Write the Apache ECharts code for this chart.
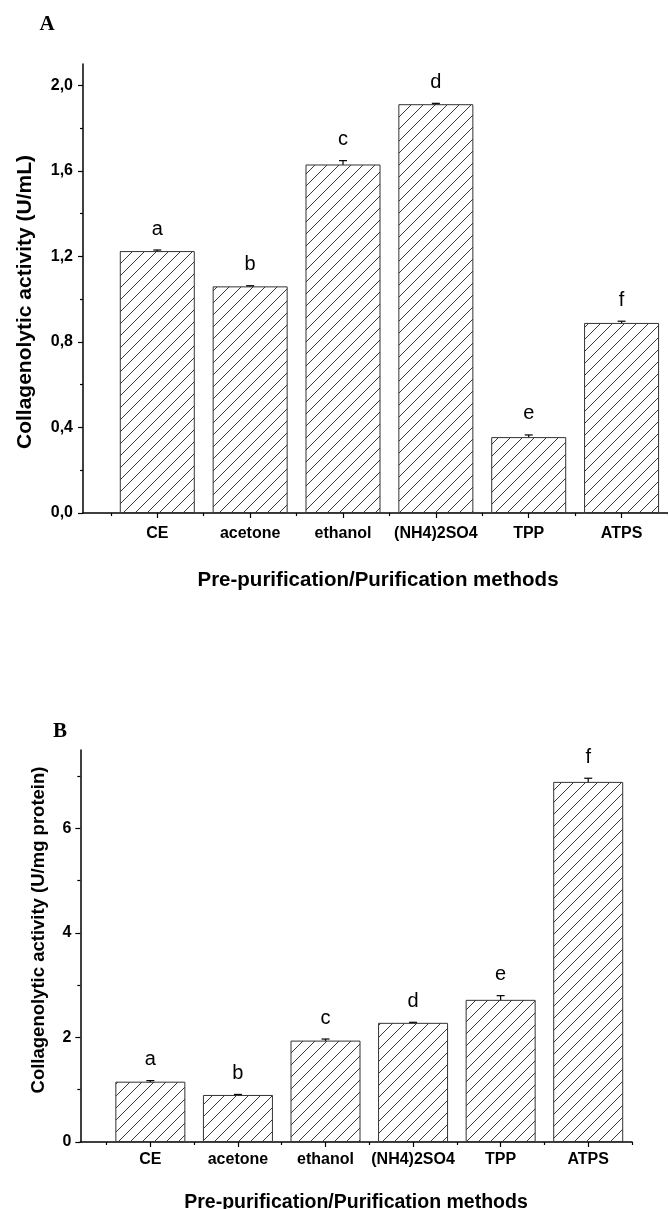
<!DOCTYPE html>
<html><head><meta charset="utf-8">
<script src="https://cdn.jsdelivr.net/npm/echarts@6/dist/echarts.min.js"></script>
<style>html,body{margin:0;padding:0;background:#fff}#c{width:668px;height:1209px}</style>
</head><body><div id="c"></div>
<script>
// ---- data ----
const categories = ['CE', 'acetone', 'ethanol', '(NH4)2SO4', 'TPP', 'ATPS'];
const catPositions = [1, 2, 3, 4, 5, 6];
const catBoundaries = [0.5, 1.5, 2.5, 3.5, 4.5, 5.5, 6.5];
const valuesA = [1.225, 1.06, 1.63, 1.912, 0.355, 0.889];
const errorsA = [0.005, 0.003, 0.018, 0.004, 0.01, 0.008];
const lettersA = ['a', 'b', 'c', 'd', 'e', 'f'];
const valuesB = [1.154, 0.90, 1.94, 2.28, 2.72, 6.89];
const errorsB = [0.02, 0.01, 0.03, 0.01, 0.08, 0.07];
const lettersB = ['a', 'b', 'c', 'd', 'e', 'f'];
const yTicksA = [0, 0.4, 0.8, 1.2, 1.6, 2.0];
const yMinorA = [0.2, 0.6, 1.0, 1.4, 1.8];
const yTicksB = [0, 2, 4, 6];
const yMinorB = [1, 3, 5, 7];
const titleX = 'Pre-purification/Purification methods';
const titleYA = 'Collagenolytic activity (U/mL)';
const titleYB = 'Collagenolytic activity (U/mg protein)';

// ---- hatch pattern ----
function hatch() {
  const s = 12, c = document.createElement('canvas');
  c.width = s; c.height = s;
  const ctx = c.getContext('2d');
  ctx.fillStyle = '#fff'; ctx.fillRect(0, 0, s, s);
  ctx.strokeStyle = '#222'; ctx.lineWidth = 0.9;
  ctx.beginPath();
  ctx.moveTo(-1, s + 1); ctx.lineTo(s + 1, -1);
  ctx.moveTo(-2, 2); ctx.lineTo(2, -2);
  ctx.moveTo(s - 2, s + 2); ctx.lineTo(s + 2, s - 2);
  ctx.stroke();
  return c;
}
const pattern = { image: hatch(), repeat: 'repeat' };
const sans = 'Liberation Sans, Arial, sans-serif';

function xAxesFor(gridIndex, labelMargin) {
  return [
    { type: 'value', gridIndex, min: 0.2, max: 6.5, position: 'bottom',
      axisLine: { show: true, onZero: false, lineStyle: { color: '#000', width: 1.5 } },
      axisTick: { show: true, customValues: catPositions, length: 5, lineStyle: { color: '#000', width: 1.2 } },
      axisLabel: { show: true, customValues: catPositions, margin: labelMargin,
        formatter: v => categories[Math.round(v) - 1], color: '#000',
        fontFamily: sans, fontWeight: 'bold', fontSize: 16 },
      splitLine: { show: false } },
    { type: 'value', gridIndex, min: 0.2, max: 6.5, position: 'bottom',
      axisLine: { show: false, onZero: false },
      axisTick: { show: true, customValues: catBoundaries, length: 3, lineStyle: { color: '#000', width: 1.2 } },
      axisLabel: { show: false }, splitLine: { show: false } }
  ];
}
function yAxesFor(gridIndex, max, ticks, minor, fmt, margin) {
  return [
    { type: 'value', gridIndex, min: 0, max, position: 'left',
      axisLine: { show: true, lineStyle: { color: '#000', width: 1.5 } },
      axisTick: { show: true, customValues: ticks, length: 5, lineStyle: { color: '#000', width: 1.2 } },
      axisLabel: { show: true, customValues: ticks, formatter: fmt, margin, color: '#000',
        fontFamily: sans, fontWeight: 'bold', fontSize: 16 },
      splitLine: { show: false } },
    { type: 'value', gridIndex, min: 0, max, position: 'left',
      axisLine: { show: false },
      axisTick: { show: true, customValues: minor, length: 3, lineStyle: { color: '#000', width: 1.2 } },
      axisLabel: { show: false }, splitLine: { show: false } }
  ];
}

function barSeries(xi, yi, vals, width) {
  return { type: 'bar', xAxisIndex: xi, yAxisIndex: yi, barWidth: width,
    data: vals.map((v, i) => [catPositions[i], v]),
    itemStyle: { color: pattern, borderColor: '#333', borderWidth: 1 },
    silent: true, animation: false };
}
function errSeries(xi, yi, vals, errs, letters) {
  return { type: 'custom', xAxisIndex: xi, yAxisIndex: yi, animation: false, silent: true,
    data: vals.map((v, i) => [catPositions[i], v, errs[i]]),
    renderItem: (params, api) => {
      const x = api.value(0), v = api.value(1), e = api.value(2);
      const t = api.coord([x, v + e]), b = api.coord([x, v - e]);
      const h = 4, st = { stroke: '#000', lineWidth: 1.2 };
      return { type: 'group', children: [
        { type: 'line', shape: { x1: t[0], y1: t[1], x2: b[0], y2: b[1] }, style: st },
        { type: 'line', shape: { x1: t[0] - h, y1: t[1], x2: t[0] + h, y2: t[1] }, style: st },
        { type: 'line', shape: { x1: b[0] - h, y1: b[1], x2: b[0] + h, y2: b[1] }, style: st },
        { type: 'text', x: t[0], y: t[1] - 21,
          style: { text: letters[params.dataIndex], fill: '#000', font: '20px ' + sans,
            textAlign: 'center', textVerticalAlign: 'middle', align: 'center', verticalAlign: 'middle' } }
      ] };
    } };
}

const chart = echarts.init(document.getElementById('c'), null, { renderer: 'canvas' });
chart.setOption({
  backgroundColor: '#fff',
  animation: false,
  grid: [
    { left: 83, right: -6.7, top: 64, bottom: 696 },
    { left: 80.3, right: 36, top: 750, bottom: 67 }
  ],
  xAxis: [...xAxesFor(0, 13), ...xAxesFor(1, 10)],
  yAxis: [
    ...yAxesFor(0, 2.1, yTicksA, yMinorA, v => v.toFixed(1).replace('.', ','), 10),
    ...yAxesFor(1, 7.5, yTicksB, yMinorB, v => String(v), 9)
  ],
  series: [
    barSeries(0, 0, valuesA, 75),
    errSeries(0, 0, valuesA, errorsA, lettersA),
    barSeries(2, 2, valuesB, 70),
    errSeries(2, 2, valuesB, errorsB, lettersB)
  ],
  graphic: [
    { type: 'text', x: 47, y: 25, style: { text: 'A', font: 'bold 21px Liberation Serif, Times New Roman, serif', fill: '#000', textAlign: 'center', textVerticalAlign: 'middle' } },
    { type: 'text', x: 60, y: 732, style: { text: 'B', font: 'bold 21px Liberation Serif, Times New Roman, serif', fill: '#000', textAlign: 'center', textVerticalAlign: 'middle' } },
    { type: 'text', x: 378, y: 580, style: { text: titleX, font: 'bold 20.5px ' + sans, fill: '#000', textAlign: 'center', textVerticalAlign: 'middle' } },
    { type: 'text', x: 356, y: 1203, style: { text: titleX, font: 'bold 19.5px ' + sans, fill: '#000', textAlign: 'center', textVerticalAlign: 'middle' } },
    { type: 'text', x: 25, y: 302, rotation: Math.PI / 2, style: { text: titleYA, font: 'bold 21px ' + sans, fill: '#000', textAlign: 'center', textVerticalAlign: 'middle' } },
    { type: 'text', x: 39, y: 930, rotation: Math.PI / 2, style: { text: titleYB, font: 'bold 18.5px ' + sans, fill: '#000', textAlign: 'center', textVerticalAlign: 'middle' } }
  ]
});
</script>
</body></html>
